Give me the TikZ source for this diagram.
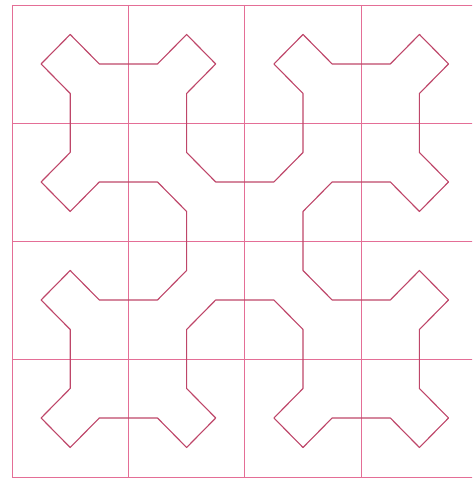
\documentclass[tikz,border=0pt]{standalone}
\definecolor{gridpink}{RGB}{228,110,150}
\definecolor{curvered}{RGB}{190,70,105}

\begin{document}
\begin{tikzpicture}[x=2.91cm, y=-2.95cm,
	gridline/.style={gridpink, line width=0.45pt},
	curveline/.style={curvered, line width=0.8pt, line join=round}]
	\useasboundingbox (-0.103,-0.042) rectangle (3.952,4.034);
	\clip (-0.103,-0.042) rectangle (3.952,4.034);
	\foreach \i in {0,...,4} {
		\draw [gridline] (\i,0) -- (\i,4);
		\draw [gridline] (0,\i) -- (4,\i);
	}
	\draw [curveline] (0.5,0.25) -- (0.75,0.5) -- (1.25,0.5) -- (1.5,0.25) -- (1.75,0.5)
		-- (1.5,0.75) -- (1.5,1.25) -- (1.75,1.5) -- (2.25,1.5) -- (2.5,1.25)
		-- (2.5,0.75) -- (2.25,0.5) -- (2.5,0.25) -- (2.75,0.5) -- (3.25,0.5)
		-- (3.5,0.25) -- (3.75,0.5) -- (3.5,0.75) -- (3.5,1.25) -- (3.75,1.5)
		-- (3.5,1.75) -- (3.25,1.5) -- (2.75,1.5) -- (2.5,1.75) -- (2.5,2.25)
		-- (2.75,2.5) -- (3.25,2.5) -- (3.5,2.25) -- (3.75,2.5) -- (3.5,2.75)
		-- (3.5,3.25) -- (3.75,3.5) -- (3.5,3.75) -- (3.25,3.5) -- (2.75,3.5)
		-- (2.5,3.75) -- (2.25,3.5) -- (2.5,3.25) -- (2.5,2.75) -- (2.25,2.5)
		-- (1.75,2.5) -- (1.5,2.75) -- (1.5,3.25) -- (1.75,3.5) -- (1.5,3.75)
		-- (1.25,3.5) -- (0.75,3.5) -- (0.5,3.75) -- (0.25,3.5) -- (0.5,3.25)
		-- (0.5,2.75) -- (0.25,2.5) -- (0.5,2.25) -- (0.75,2.5) -- (1.25,2.5)
		-- (1.5,2.25) -- (1.5,1.75) -- (1.25,1.5) -- (0.75,1.5) -- (0.5,1.75)
		-- (0.25,1.5) -- (0.5,1.25) -- (0.5,0.75) -- (0.25,0.5) -- cycle;
\end{tikzpicture}
\end{document}
